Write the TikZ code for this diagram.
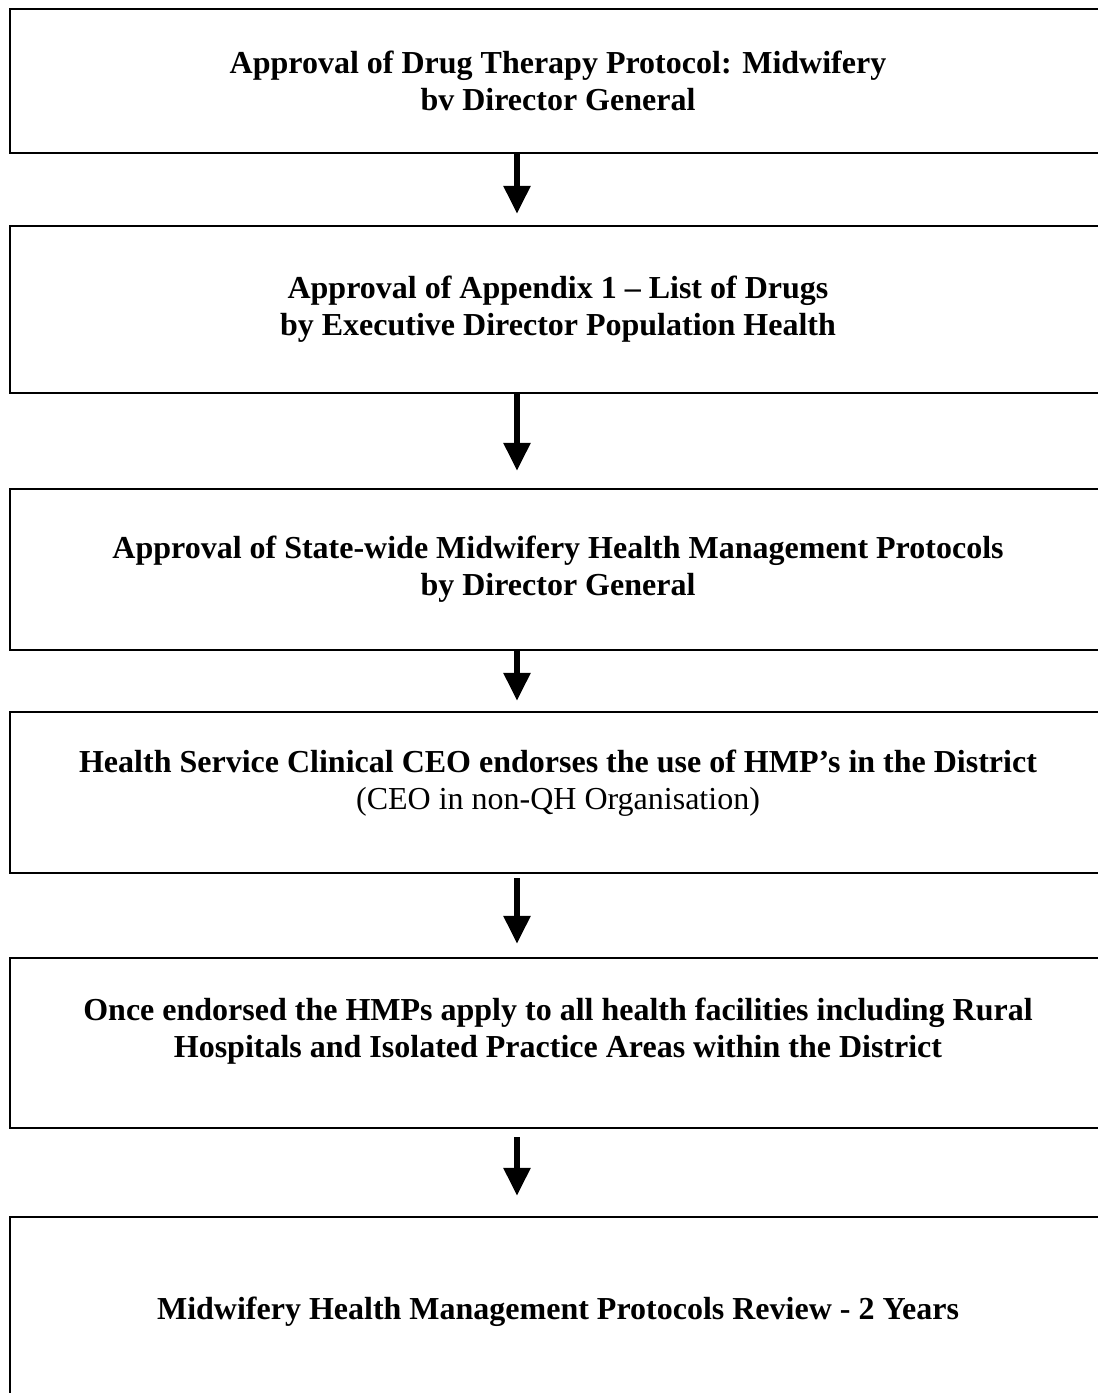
\documentclass[tikz,border=0pt]{standalone}
\usepackage{fontspec}
\setmainfont{Liberation Serif}
\usetikzlibrary{arrows.meta}

\begin{document}
\begin{tikzpicture}[x=1pt, y=-1pt,
    every node/.style={font=\fontsize{32}{37}\selectfont\bfseries},
    stage/.style={draw, line width=2.5pt, align=center, minimum width=1096pt, inner sep=0pt},
    flow/.style={line width=6pt, -{Triangle[width=26pt, length=28pt]}}]
  \useasboundingbox (0,0) rectangle (1098,1393);

  \node[stage, minimum height=144pt, text depth=0pt]
    (dtp) at (558, 81) {Approval of Drug Therapy Protocol: Midwifery\\bv Director General};

  \node[stage, minimum height=167pt]
    (drugs) at (558, 309.5) {Approval of Appendix 1 -- List of Drugs\\by Executive Director Population Health};

  \node[stage, minimum height=161pt]
    (hmp) at (558, 569.5) {Approval of State-wide Midwifery Health Management Protocols\\by Director General};

  \node[stage, minimum height=161pt, text depth=26pt]
    (ceo) at (558, 792.5) {Health Service Clinical CEO endorses the use of HMP’s in the District\\{\mdseries (CEO in non-QH Organisation)}};

  \node[stage, minimum height=170pt, text depth=30pt]
    (apply) at (558, 1043) {Once endorsed the HMPs apply to all health facilities including Rural\\Hospitals and Isolated Practice Areas within the District};

  \node[stage, minimum height=190pt]
    (review) at (558, 1312) {Midwifery Health Management Protocols Review - 2 Years};

  \coordinate (ax) at (517, 0);

  \draw[flow, shorten >=11pt] (dtp.south -| ax) -- (drugs.north -| ax);
  \draw[flow, shorten >=17pt] (drugs.south -| ax) -- (hmp.north -| ax);
  \draw[flow, shorten >=10pt] (hmp.south -| ax) -- (ceo.north -| ax);
  \draw[flow, shorten <=4pt, shorten >=13pt] (ceo.south -| ax) -- (apply.north -| ax);
  \draw[flow, shorten <=8pt, shorten >=20pt] (apply.south -| ax) -- (review.north -| ax);
\end{tikzpicture}
\end{document}
